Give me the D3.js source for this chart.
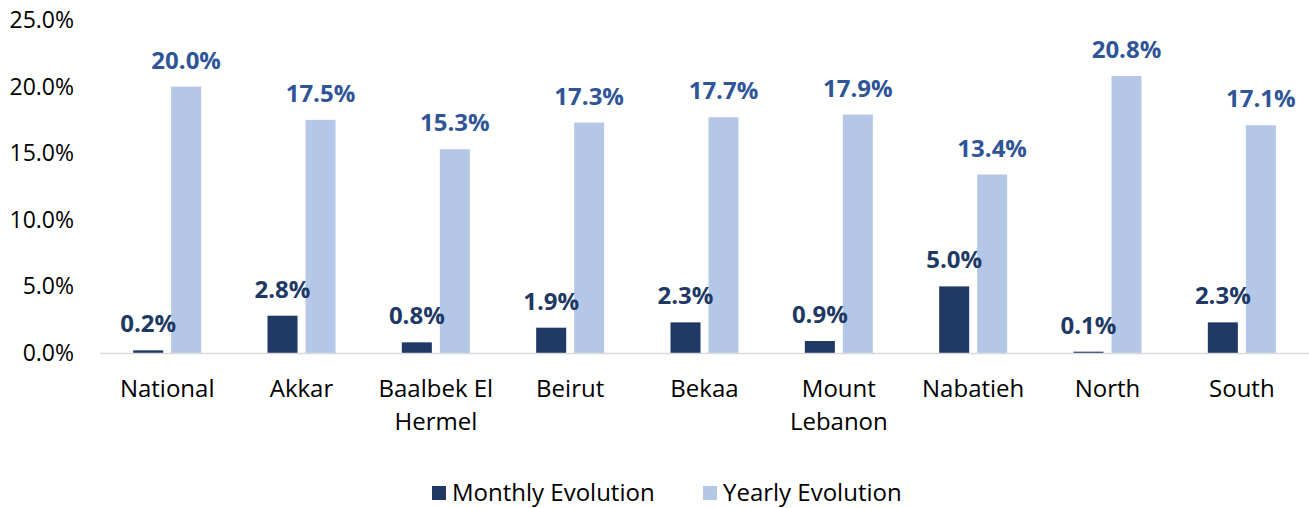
<!DOCTYPE html>
<html lang="en">
<head>
<meta charset="UTF-8">
<script src="https://d3js.org/d3.v7.min.js"></script>
<style>
  body { margin: 0; background: #fff; }
  svg { font-family: "Open Sans", sans-serif; }
</style>
</head>
<body>
<div id="chart"></div>
<script>
const regions = ["National", "Akkar", "Baalbek El Hermel", "Beirut", "Bekaa", "Mount Lebanon", "Nabatieh", "North", "South"];
const regionLines = [["National"], ["Akkar"], ["Baalbek El", "Hermel"], ["Beirut"], ["Bekaa"], ["Mount", "Lebanon"], ["Nabatieh"], ["North"], ["South"]];
const monthly = [0.2, 2.8, 0.8, 1.9, 2.3, 0.9, 5.0, 0.1, 2.3];
const yearly = [20.0, 17.5, 15.3, 17.3, 17.7, 17.9, 13.4, 20.8, 17.1];
const yTicks = [0, 5, 10, 15, 20, 25];
const seriesNames = ["Monthly Evolution", "Yearly Evolution"];

const width = 1309, height = 508;
const marginLeft = 100, marginRight = 0, marginTop = 20, plotBottom = 353;
const barColors = ["#203864", "#b4c7e7"];
const labelColors = ["#203864", "#2f5597"];

const svg = d3.select("#chart").append("svg")
  .attr("width", width)
  .attr("height", height);

const x = d3.scaleBand()
  .domain(regions)
  .range([marginLeft, width - marginRight]);

const x1 = d3.scaleBand()
  .domain([0, 1])
  .range([0, 68])
  .paddingInner(0.21);

const y = d3.scaleLinear()
  .domain([0, 25])
  .range([plotBottom, marginTop]);

// y axis labels
svg.append("g")
  .selectAll("text")
  .data(yTicks)
  .join("text")
  .attr("x", 74)
  .attr("y", d => y(d))
  .attr("dy", "0.35em")
  .attr("text-anchor", "end")
  .attr("font-size", 23)
  .attr("fill", "#000")
  .text(d => d.toFixed(1) + "%");

const data = regions.map((r, i) => ({ region: r, values: [monthly[i], yearly[i]] }));

const groups = svg.append("g")
  .selectAll("g")
  .data(data)
  .join("g")
  .attr("transform", d => `translate(${x(d.region) + x.bandwidth() / 2 - 34},0)`);

groups.selectAll("rect")
  .data(d => d.values.map((v, k) => ({ v, k })))
  .join("rect")
  .attr("x", d => x1(d.k))
  .attr("y", d => y(d.v))
  .attr("width", x1.bandwidth())
  .attr("height", d => y(0) - y(d.v))
  .attr("fill", d => barColors[d.k]);

groups.selectAll("text")
  .data(d => d.values.map((v, k) => ({ v, k })))
  .join("text")
  .attr("x", d => x1(d.k) + x1.bandwidth() / 2)
  .attr("y", d => y(d.v) - 18)
  .attr("text-anchor", "middle")
  .attr("font-size", 24)
  .attr("font-weight", "bold")
  .attr("fill", d => labelColors[d.k])
  .text(d => d.v.toFixed(1) + "%");

// baseline
svg.append("line")
  .attr("x1", marginLeft)
  .attr("x2", width - marginRight)
  .attr("y1", y(0) + 0.5)
  .attr("y2", y(0) + 0.5)
  .attr("stroke", "#d9d9d9")
  .attr("stroke-width", 1.5);

// category labels
svg.append("g")
  .selectAll("text")
  .data(regions.map((r, i) => ({ r, lines: regionLines[i] })))
  .join("text")
  .attr("x", d => x(d.r) + x.bandwidth() / 2)
  .attr("y", 397)
  .attr("text-anchor", "middle")
  .attr("font-size", 24)
  .attr("fill", "#000")
  .selectAll("tspan")
  .data(d => d.lines.map(l => ({ l, cx: x(d.r) + x.bandwidth() / 2 })))
  .join("tspan")
  .attr("x", d => d.cx)
  .attr("dy", (d, i) => i === 0 ? 0 : 33)
  .text(d => d.l);

// legend
const legendX = [432, 703];
const legend = svg.append("g")
  .selectAll("g")
  .data(seriesNames)
  .join("g")
  .attr("transform", (d, i) => `translate(${legendX[i]},486)`);

legend.append("rect")
  .attr("width", 14)
  .attr("height", 14)
  .attr("fill", (d, i) => barColors[i]);

legend.append("text")
  .attr("x", 20)
  .attr("y", 7)
  .attr("dy", "0.35em")
  .attr("font-size", 24)
  .attr("fill", "#000")
  .text(d => d);
</script>
</body>
</html>
